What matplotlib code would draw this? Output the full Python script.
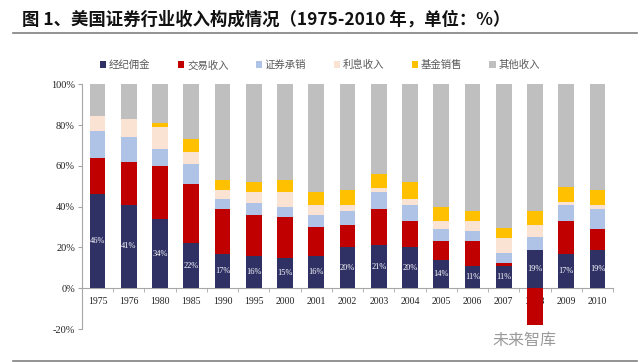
import matplotlib
matplotlib.use("Agg")
import matplotlib.pyplot as plt
from matplotlib.patches import Patch
from matplotlib.lines import Line2D
import numpy as np

years = ["1975", "1976", "1980", "1985", "1990", "1995", "2000", "2001", "2002",
         "2003", "2004", "2005", "2006", "2007", "2008", "2009", "2010"]
brokerage = [46, 41, 34, 22, 17, 16, 15, 16, 20, 21, 20, 14, 11, 11, 19, 17, 19]
trading = [18, 21, 26, 29, 22, 20, 20, 14, 11, 18, 13, 9, 12, 1.5, -18, 16, 10]
underwriting = [13, 12, 8.5, 10, 5, 6, 5, 6, 7, 8, 8, 6, 5, 5, 6, 8, 10]
interest = [7.4, 9, 10.6, 5.7, 4, 5, 7, 5, 3, 2, 3, 4, 5, 7, 6, 1.5, 2]
fund_sales = [0, 0, 1.7, 6.5, 5, 5.2, 6, 6, 7, 7, 8, 7, 5, 5, 7, 7, 7]
series_names = ["经纪佣金", "交易收入", "证券承销", "利息收入", "基金销售", "其他收入"]
yticks = [-20, 0, 20, 40, 60, 80, 100]
title = "图 1、美国证券行业收入构成情况（1975-2010 年，单位：%）"
watermark = "未来智库"

colors = ["#2F3165", "#C00000", "#AFC3E6", "#FBE3D4", "#FFC000", "#BFBFBF"]

fig = plt.figure(figsize=(6.4, 3.62), dpi=100)
ax = fig.add_axes([0.128, 0.091, 0.83, 0.676])

for s in ["top", "right"]:
    ax.spines[s].set_visible(False)
ax.spines["bottom"].set_position(("data", 0))
ax.spines["bottom"].set_color("#A6A6A6")
ax.spines["left"].set_color("#A6A6A6")

x = np.arange(len(years))
w = 0.5
pos_bottom = np.zeros(len(years))
neg_bottom = np.zeros(len(years))
layers = [brokerage, trading, underwriting, interest, fund_sales]
for vals, c in zip(layers, colors[:5]):
    vals = np.array(vals, dtype=float)
    b = np.where(vals >= 0, pos_bottom, neg_bottom)
    ax.bar(x, vals, w, bottom=b, color=c, zorder=3, linewidth=0)
    pos_bottom = pos_bottom + np.where(vals >= 0, vals, 0)
    neg_bottom = neg_bottom + np.where(vals < 0, vals, 0)
other = 100 - pos_bottom
ax.bar(x, other, w, bottom=pos_bottom, color=colors[5], zorder=3, linewidth=0)

for xi, v in zip(x, brokerage):
    ax.text(xi, v / 2, f"{v:.0f}%", ha="center", va="center", color="white",
            fontsize=6, family="Liberation Serif", zorder=4)

ax.set_xlim(-0.5, len(years) - 0.5)
ax.set_ylim(-20, 100)
ax.set_yticks(yticks)
ax.set_xticks(x)
ax.set_xticks(np.arange(len(years) + 1) - 0.5, minor=True)
ax.tick_params(axis="x", which="major", length=0, pad=6)
ax.tick_params(axis="x", which="minor", length=3, color="#A6A6A6", direction="out")
ax.tick_params(axis="y", length=3, color="#A6A6A6", pad=2)
ax.set_yticklabels([f"{t}%" for t in yticks], family="Liberation Serif", fontsize=7.5,
                   color="#222222")
ax.set_xticklabels(years, family="Liberation Serif", fontsize=7, color="#222222")
ax.xaxis.set_zorder(1.5)

handles = [Patch(facecolor=c, edgecolor="none") for c in colors]
leg = fig.legend(handles, series_names, loc="center", bbox_to_anchor=(0.5, 0.82), ncol=6,
                 frameon=False, handlelength=0.6, handleheight=0.6,
                 handletextpad=0.3, columnspacing=2.6,
                 prop={"family": ["Noto Sans CJK SC", "DejaVu Sans"], "size": 7.5})
for t in leg.get_texts():
    t.set_color("#595959")

fig.text(0.034, 0.945, title, fontsize=12.5, fontweight="bold", va="center", ha="left",
         family=["Noto Sans CJK SC", "DejaVu Sans"], color="#111111")
fig.add_artist(Line2D([0.02, 0.995], [0.91, 0.91], color="#808080", linewidth=1.2))
fig.add_artist(Line2D([0.02, 0.995], [0.003, 0.003], color="#808080", linewidth=1.2))
fig.text(0.77, 0.06, watermark, fontsize=11.5, color="#9A9A9A", va="center", ha="left",
         family=["Noto Sans CJK SC", "DejaVu Sans"])

fig.savefig("out.png", dpi=100)
